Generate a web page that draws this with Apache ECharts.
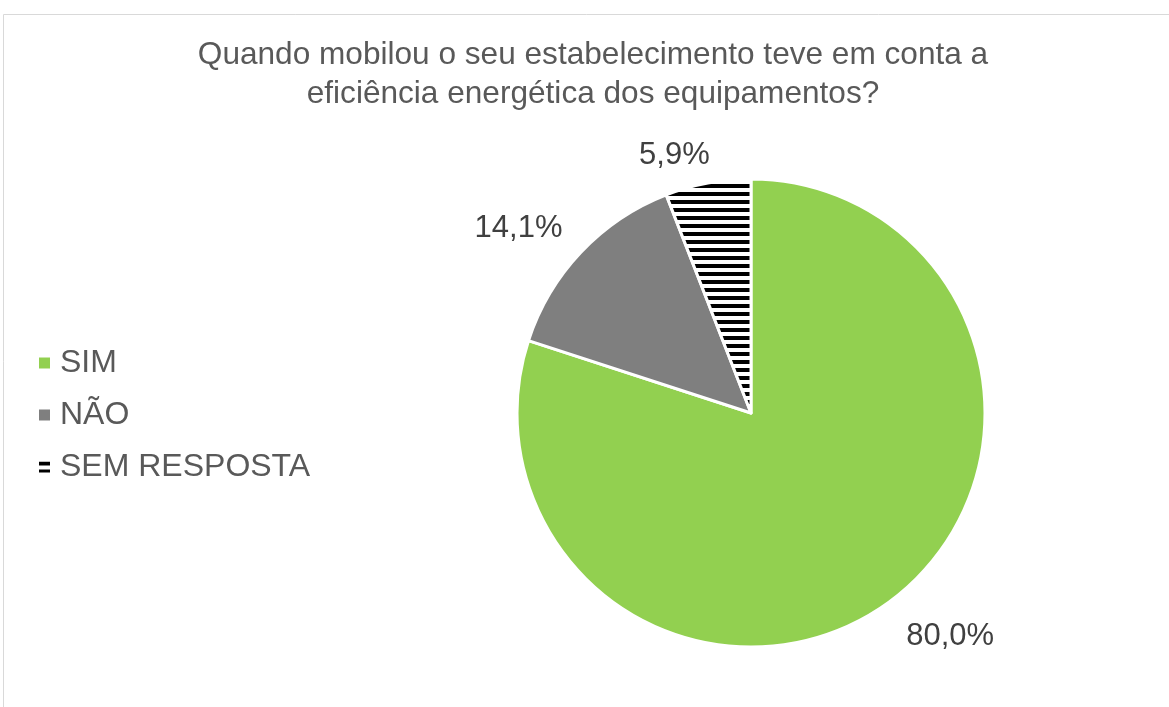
<!DOCTYPE html>
<html>
<head>
<meta charset="utf-8">
<script src="https://cdn.jsdelivr.net/npm/echarts@6/dist/echarts.min.js"></script>
<style>
    html, body { margin: 0; padding: 0; background: #fff; }
    #chart { width: 1169px; height: 707px; }
</style>
</head>
<body>
<div id="chart"></div>
<script>
    // dados
    const categories = ['SIM', 'NÃO', 'SEM RESPOSTA'];
    const values = [80.0, 14.1, 5.9];
    const titleText = 'Quando mobilou o seu estabelecimento teve em conta a\neficiência energética dos equipamentos?';

    // padrão de riscas horizontais para "SEM RESPOSTA"
    function stripes() {
        let c = document.createElement('canvas');
        c.width = 8;
        c.height = 8;
        let ctx = c.getContext('2d');
        ctx.fillStyle = '#fff';
        ctx.fillRect(0, 0, 8, 8);
        ctx.fillStyle = '#000';
        ctx.fillRect(0, 0, 8, 4);
        return { image: c, repeat: 'repeat' };
    }

    const colors = ['#92d050', '#7f7f7f', stripes()];
    // distância dos rótulos à fatia (ajuste visual)
    const labelLen = [42, 35, 28];
    const font = 'Liberation Sans, Arial, sans-serif';

    let myChart = echarts.init(document.getElementById('chart'));
    myChart.setOption({
        animation: false,
        title: {
            text: titleText,
            left: 593,
            textAlign: 'center',
            top: 36,
            padding: 0,
            textStyle: {
                fontFamily: font,
                fontSize: 31.6,
                fontWeight: 'normal',
                color: '#595959',
                lineHeight: 39
            }
        },
        legend: {
            orient: 'vertical',
            left: 34,
            top: 342,
            itemWidth: 11,
            itemHeight: 11,
            itemGap: 20,
            icon: 'rect',
            itemStyle: { borderWidth: 0 },
            textStyle: {
                fontFamily: font,
                fontSize: 32,
                lineHeight: 32,
                color: '#595959',
                padding: [0, 0, 0, 5]
            },
            data: categories
        },
        graphic: [{
            type: 'rect',
            shape: { x: 3.5, y: 14.5, width: 1300, height: 900 },
            style: { fill: null, stroke: '#d9d9d9', lineWidth: 1 },
            silent: true
        }],
        series: [{
            type: 'pie',
            center: [751, 413],
            radius: 234,
            startAngle: 90,
            clockwise: true,
            itemStyle: { borderColor: '#fff', borderWidth: 3 },
            label: {
                show: true,
                position: 'outside',
                distanceToLabelLine: -7,
                fontFamily: font,
                fontSize: 31,
                color: '#404040',
                formatter: p => p.value.toFixed(1).replace('.', ',') + '%'
            },
            labelLine: { show: false, length: 38, length2: 0 },
            emphasis: { disabled: true },
            data: categories.map((name, i) => ({
                name: name,
                value: values[i],
                itemStyle: { color: colors[i] },
                labelLine: { show: false, length: labelLen[i], length2: 0 }
            }))
        }]
    });
</script>
</body>
</html>
